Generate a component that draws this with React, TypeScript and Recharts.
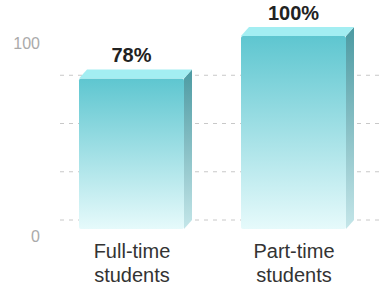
import { BarChart, Bar, XAxis, YAxis, CartesianGrid, LabelList } from "recharts";

const categories = ["Full-time students", "Part-time students"];
const shares = [78, 100];
const yTicks = [0, 100];
const gridValues = [0, 25, 50, 75];

const data = categories.map((name, i) => ({ name, share: shares[i] }));

// depth of the fake 3d box
const DX = 8;
const DY = 9;
const FONT = "Arial, 'Liberation Sans', sans-serif";

function Box3D(props: any) {
  const { x, y, width, height } = props;
  if (!height) return null;
  const top = `${x},${y} ${x + DX},${y - DY} ${x + width + DX},${y - DY} ${x + width},${y}`;
  const side = `${x + width},${y} ${x + width + DX},${y - DY} ${x + width + DX},${y + height - DY} ${x + width},${y + height}`;
  return (
    <g>
      <polygon points={side} fill="url(#sideFill)" />
      <rect x={x} y={y} width={width} height={height} rx={2} fill="url(#frontFill)" />
      <polygon points={top} fill="#a3eef2" />
    </g>
  );
}

function CatTick({ x, y, payload }: any) {
  const words = String(payload.value).split(" ");
  return (
    <text x={x} y={y} textAnchor="middle" fill="#333" fontSize={20} fontFamily={FONT}>
      {words.map((w, i) => (
        <tspan key={i} x={x + 1} dy={i === 0 ? 21 : 24}>
          {w}
        </tspan>
      ))}
    </text>
  );
}

function ValTick({ x, y, payload }: any) {
  return (
    <text x={x - 2} y={y + 13} textAnchor="end" fill="#aaa" fontSize={16} fontFamily={FONT}>
      {payload.value}
    </text>
  );
}

export default function App() {
  return (
    <div style={{ position: "absolute", left: 0, top: 0, width: 382, height: 287, background: "#fff" }}>
      <BarChart
        width={382}
        height={287}
        data={data}
        margin={{ top: 36, right: 8, bottom: 0, left: 0 }}
        barCategoryGap={0}
      >
        <defs>
          <linearGradient id="frontFill" x1="0" y1="0" x2="0" y2="1">
            <stop offset="0%" stopColor="#5ec6d0" />
            <stop offset="100%" stopColor="#e6fafb" />
          </linearGradient>
          <linearGradient id="sideFill" x1="0" y1="0" x2="0" y2="1">
            <stop offset="0%" stopColor="#4c9aa2" />
            <stop offset="100%" stopColor="#c4e6e9" />
          </linearGradient>
        </defs>
        <CartesianGrid
          vertical={false}
          stroke="#c8c8c8"
          strokeDasharray="4 5"
          x={60}
          width={322}
          horizontalCoordinatesGenerator={({ offset }: any) =>
            gridValues.map((v) => offset.top + offset.height * (1 - v / 100) - DY)
          }
        />
        <XAxis
          dataKey="name"
          axisLine={false}
          tickLine={false}
          height={58}
          tick={<CatTick />}
          interval={0}
        />
        <YAxis
          domain={[0, 100]}
          ticks={yTicks}
          axisLine={false}
          tickLine={false}
          width={50}
          tick={<ValTick />}
        />
        <Bar dataKey="share" barSize={105} shape={<Box3D />} isAnimationActive={false}>
          <LabelList
            dataKey="share"
            position="top"
            offset={16}
            formatter={(v: any) => `${v}%`}
            fill="#222"
            fontSize={20}
            fontWeight="bold"
            fontFamily={FONT}
          />
        </Bar>
      </BarChart>
    </div>
  );
}
